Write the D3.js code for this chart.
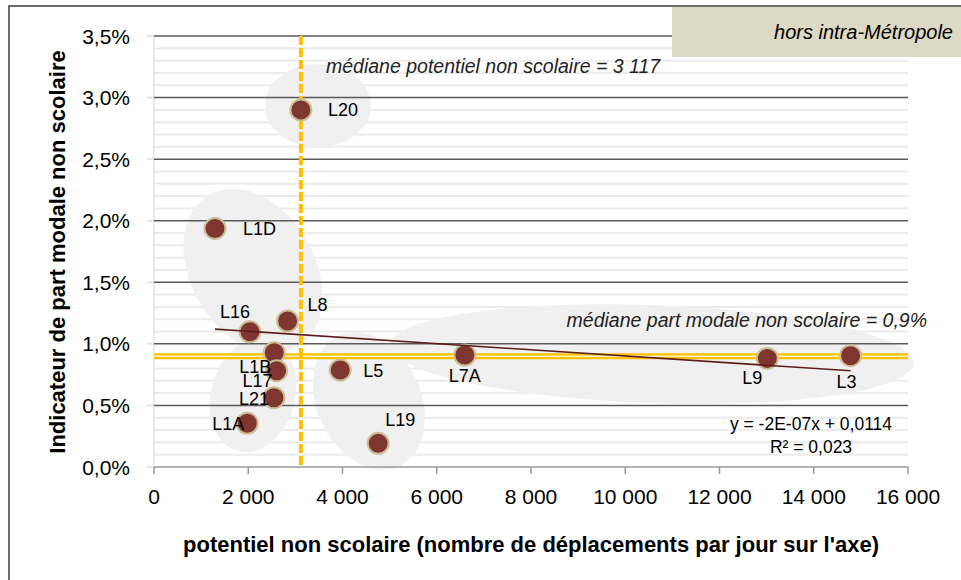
<!DOCTYPE html>
<meta charset="utf-8">
<title>Part modale non scolaire vs potentiel</title>
<script src="https://d3js.org/d3.v7.min.js"></script>
<style>
  body { margin: 0; background: #fff; }
  text { font-family: "Liberation Sans", Arial, sans-serif; fill: #000; }
  .tick-label { font-size: 21px; }
  .axis-title { font-size: 22px; font-weight: bold; }
  .pt-label { font-size: 18px; }
  .note { font-size: 19.5px; font-style: italic; fill: #222; }
  .eq { font-size: 17.5px; }
</style>
<body>
<svg width="961" height="580"></svg>
</body>
<script>

  // values
  var lignes = ["L20", "L1D", "L16", "L8", "L1B", "L17", "L21", "L1A", "L5", "L19", "L7A", "L9", "L3"];
  var potentiel = [3117, 1294, 2036, 2835, 2551, 2602, 2545, 1979, 3951, 4757, 6596, 13015, 14782];
  var partModale = [0.0290, 0.01937, 0.01098, 0.01185, 0.00928, 0.00782, 0.00563, 0.00355, 0.00787, 0.00192, 0.00909, 0.00882, 0.00904];

  var xTicks = [0, 2000, 4000, 6000, 8000, 10000, 12000, 14000, 16000];
  var yTicks = [0, 0.005, 0.01, 0.015, 0.02, 0.025, 0.03, 0.035];
  var medianePotentiel = 3117;
  var medianePart = 0.009;

  // label placement relative to the point (px)
  var labelPos = {
    L20: [27, 6, "start"], L1D: [28, 7, "start"], L16: [-15, -14, "middle"], L8: [20, -10, "start"],
    L1B: [-3, 20, "end"], L17: [-4, 16, "end"], L21: [-5, 7, "end"], L1A: [-3, 7, "end"],
    L5: [23, 7, "start"], L19: [22, -17, "middle"], L7A: [0, 27, "middle"], L9: [-15, 26, "middle"], L3: [-4, 32, "middle"]
  };

  // grey cluster ellipses: centre in data units, radii / angle in px
  var groupes = [
    { x: 3478, y: 0.02934, rx: 53, ry: 41.5, a: 0 },
    { x: 2100, y: 0.01591, rx: 88, ry: 62, a: 60 },
    { x: 2100, y: 0.00584, rx: 58, ry: 42, a: -75 },
    { x: 4560, y: 0.00536, rx: 72, ry: 52, a: 65 },
    { x: 10562, y: 0.00917, rx: 262, ry: 49, a: 2 }
  ];

  var data = lignes.map(function (n, i) { return { name: n, x: potentiel[i], y: partModale[i] }; });

  var fr = d3.formatLocale({ decimal: ",", thousands: "\u00a0", grouping: [3], currency: ["", " €"] });

  var svg = d3.select("svg");
  var x = d3.scaleLinear().domain([0, 16000]).range([154, 908]);
  var y = d3.scaleLinear().domain([0, 0.035]).range([467, 36]);

  // outer frame
  svg.append("rect").attr("x", 9).attr("y", 6).attr("width", 1000).attr("height", 1000)
    .attr("fill", "#fff").attr("stroke", "#3c3c3c").attr("stroke-width", 1.5);

  // minor gridlines every 0,1%
  var minor = d3.range(1, 35).filter(function (k) { return k % 5 !== 0; }).map(function (k) { return k / 1000; });
  svg.append("g").selectAll("line").data(minor).enter().append("line")
    .attr("x1", x(0)).attr("x2", x(16000))
    .attr("y1", function (d) { return y(d); }).attr("y2", function (d) { return y(d); })
    .attr("stroke", "#ececec").attr("stroke-width", 2);

  // clusters
  svg.append("g").selectAll("ellipse").data(groupes).enter().append("ellipse")
    .attr("transform", function (d) { return "translate(" + x(d.x) + "," + y(d.y) + ") rotate(" + d.a + ")"; })
    .attr("rx", function (d) { return d.rx; }).attr("ry", function (d) { return d.ry; })
    .attr("fill", "#f0f0f0");

  // y axis light line and ticks
  svg.append("line").attr("x1", x(0)).attr("x2", x(0)).attr("y1", y(0.035)).attr("y2", y(0))
    .attr("stroke", "#e4e4e4").attr("stroke-width", 1.5);
  svg.append("g").selectAll("line").data(yTicks).enter().append("line")
    .attr("x1", x(0) - 7).attr("x2", x(0))
    .attr("y1", function (d) { return y(d); }).attr("y2", function (d) { return y(d); })
    .attr("stroke", "#dcdcdc").attr("stroke-width", 1.5);

  // major gridlines
  svg.append("g").selectAll("line").data(yTicks.slice(1)).enter().append("line")
    .attr("x1", x(0)).attr("x2", x(16000))
    .attr("y1", function (d) { return y(d); }).attr("y2", function (d) { return y(d); })
    .attr("stroke", "#5a5a5a").attr("stroke-width", 1.5);

  // x axis
  svg.append("line").attr("x1", x(0)).attr("x2", x(16000)).attr("y1", y(0)).attr("y2", y(0))
    .attr("stroke", "#9a9a9a").attr("stroke-width", 1.5);
  svg.append("g").selectAll("line").data(xTicks).enter().append("line")
    .attr("x1", function (d) { return x(d); }).attr("x2", function (d) { return x(d); })
    .attr("y1", y(0)).attr("y2", y(0) + 7)
    .attr("stroke", "#9a9a9a").attr("stroke-width", 1.5);

  svg.append("g").selectAll("text").data(xTicks).enter().append("text")
    .attr("class", "tick-label").attr("text-anchor", "middle")
    .attr("x", function (d) { return x(d); }).attr("y", 504)
    .text(function (d) { return fr.format(",")(d); });

  svg.append("g").selectAll("text").data(yTicks).enter().append("text")
    .attr("class", "tick-label").attr("text-anchor", "end")
    .attr("x", 130).attr("y", function (d) { return y(d) + 7.5; })
    .text(function (d) { return fr.format(".1%")(d); });

  // axis titles
  svg.append("text").attr("class", "axis-title").attr("text-anchor", "middle")
    .attr("x", 531).attr("y", 552)
    .text("potentiel non scolaire (nombre de déplacements par jour sur l'axe)");
  svg.append("text").attr("class", "axis-title").attr("text-anchor", "middle")
    .attr("transform", "translate(65,252) rotate(-90)")
    .text("Indicateur de part modale non scolaire");

  // median lines
  svg.append("line").attr("x1", x(0)).attr("x2", x(16000))
    .attr("y1", y(medianePart)).attr("y2", y(medianePart))
    .attr("stroke", "#ffc000").attr("stroke-width", 6);
  svg.append("line").attr("x1", x(0)).attr("x2", x(16000))
    .attr("y1", y(medianePart)).attr("y2", y(medianePart))
    .attr("stroke", "#fff3c8").attr("stroke-width", 1.5);
  svg.append("line").attr("x1", x(medianePotentiel)).attr("x2", x(medianePotentiel))
    .attr("y1", y(0.035)).attr("y2", y(0))
    .attr("stroke", "#ffc000").attr("stroke-width", 4).attr("stroke-dasharray", "9,3");

  svg.append("text").attr("class", "note").attr("x", 326).attr("y", 73)
    .text("médiane potentiel non scolaire = 3 117");
  svg.append("text").attr("class", "note").attr("x", 927).attr("y", 327).attr("text-anchor", "end")
    .text("médiane part modale non scolaire = 0,9%");

  // points
  svg.append("g").selectAll("circle").data(data).enter().append("circle")
    .attr("cx", function (d) { return x(d.x); }).attr("cy", function (d) { return y(d.y); })
    .attr("r", 10.5).attr("fill", "#803630").attr("stroke", "#cbbd94").attr("stroke-width", 2);

  // linear trend (least squares on the points)
  var mx = d3.mean(potentiel), my = d3.mean(partModale);
  var sxy = d3.sum(data, function (d) { return (d.x - mx) * (d.y - my); });
  var sxx = d3.sum(data, function (d) { return (d.x - mx) * (d.x - mx); });
  var slope = sxy / sxx, icpt = my - slope * mx;
  var xr = d3.extent(potentiel);
  svg.append("line")
    .attr("x1", x(xr[0])).attr("y1", y(icpt + slope * xr[0]))
    .attr("x2", x(xr[1])).attr("y2", y(icpt + slope * xr[1]))
    .attr("stroke", "#5b1f1b").attr("stroke-width", 1.6);

  svg.append("g").selectAll("text").data(data).enter().append("text")
    .attr("class", "pt-label")
    .attr("x", function (d) { return x(d.x) + labelPos[d.name][0]; })
    .attr("y", function (d) { return y(d.y) + labelPos[d.name][1]; })
    .attr("text-anchor", function (d) { return labelPos[d.name][2]; })
    .text(function (d) { return d.name; });

  svg.append("text").attr("class", "eq").attr("x", 811).attr("y", 430).attr("text-anchor", "middle")
    .text("y = -2E-07x + 0,0114");
  svg.append("text").attr("class", "eq").attr("x", 811).attr("y", 453).attr("text-anchor", "middle")
    .text("R² = 0,023");

  // title box
  svg.append("rect").attr("x", 672).attr("y", 7).attr("width", 300).attr("height", 50).attr("fill", "#ddd9c4");
  svg.append("text").attr("x", 953).attr("y", 39).attr("text-anchor", "end")
    .style("font-size", "20px").style("font-style", "italic")
    .text("hors intra-Métropole");

</script>
